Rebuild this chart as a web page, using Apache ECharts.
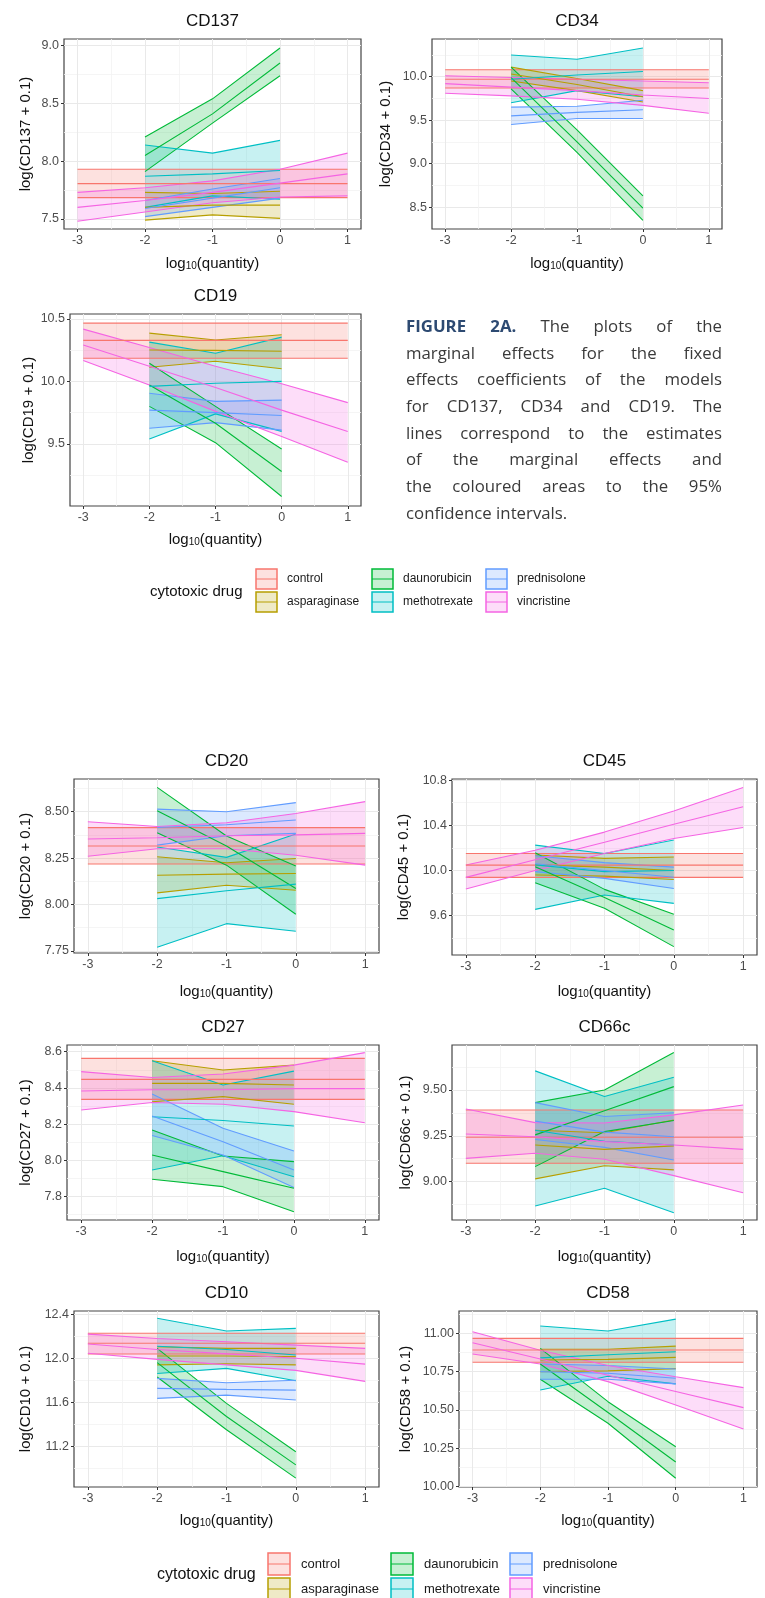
<!DOCTYPE html>
<html><head><meta charset="utf-8">
<script src="https://cdn.jsdelivr.net/npm/echarts@6/dist/echarts.min.js"></script>
<style>
html,body{margin:0;padding:0;background:#fff;}
#wrap{position:relative;width:765px;height:1598px;overflow:hidden;}
#chart{position:absolute;left:0;top:0;width:765px;height:1598px;}
#caption{position:absolute;left:406px;top:313px;width:316px;font-family:'Open Sans',sans-serif;font-size:16.8px;line-height:26.67px;color:#3a3a3a;}
#caption .ln{display:flex;justify-content:space-between;white-space:nowrap;}
#caption .last{justify-content:flex-start;}
#caption .fig{color:#2d4a72;font-weight:bold;}
</style></head>
<body>
<div id="wrap">
<div id="chart"></div>
<div id="caption">
<div class="ln"><span class="fig">FIGURE</span><span class="fig">2A.</span><span>The</span><span>plots</span><span>of</span><span>the</span></div>
<div class="ln"><span>marginal</span><span>effects</span><span>for</span><span>the</span><span>fixed</span></div>
<div class="ln"><span>effects</span><span>coefficients</span><span>of</span><span>the</span><span>models</span></div>
<div class="ln"><span>for</span><span>CD137,</span><span>CD34</span><span>and</span><span>CD19.</span><span>The</span></div>
<div class="ln"><span>lines</span><span>correspond</span><span>to</span><span>the</span><span>estimates</span></div>
<div class="ln"><span>of</span><span>the</span><span>marginal</span><span>effects</span><span>and</span></div>
<div class="ln"><span>the</span><span>coloured</span><span>areas</span><span>to</span><span>the</span><span>95%</span></div>
<div class="ln last"><span>confidence intervals.</span></div>
</div>
</div>
<script>
// ---------------- data ----------------
const drugs = ['control','asparaginase','daunorubicin','methotrexate','prednisolone','vincristine'];
const xWide = [-3,-2,-1,0,1];
const xNarrow = [-2,-1,0];
const xTickValues = [-3,-2,-1,0,1];
const xTickLabels = ['-3','-2','-1','0','1'];
const markers = ['CD137','CD34','CD19','CD20','CD45','CD27','CD66c','CD10','CD58'];

// order of each array: control, asparaginase, daunorubicin, methotrexate, prednisolone, vincristine
const CD137_lo  = [[7.685,7.685,7.685,7.685,7.685],[7.49,7.535,7.505],[7.91,8.33,8.74],[7.60,7.70,7.67],[7.52,7.60,7.68],[7.48,7.56,7.64,7.69,7.70]];
const CD137_est = [[7.806,7.806,7.806,7.806,7.806],[7.60,7.62,7.62],[8.05,8.41,8.85],[7.87,7.89,7.92],[7.59,7.68,7.77],[7.60,7.66,7.73,7.81,7.89]];
const CD137_hi  = [[7.93,7.93,7.93,7.93,7.93],[7.73,7.72,7.74],[8.21,8.54,8.98],[8.14,8.07,8.18],[7.66,7.76,7.85],[7.73,7.77,7.83,7.93,8.07]];

const CD34_lo  = [[9.87,9.87,9.87,9.87,9.87],[9.95,9.84,9.71],[9.86,9.13,8.35],[9.70,9.84,9.77],[9.45,9.52,9.52],[9.81,9.78,9.74,9.67,9.58]];
const CD34_est = [[9.97,9.97,9.97,9.97,9.97],[10.03,9.91,9.77],[9.99,9.25,8.49],[9.97,10.02,10.06],[9.55,9.59,9.62],[9.92,9.88,9.84,9.79,9.75]];
const CD34_hi  = [[10.08,10.08,10.08,10.08,10.08],[10.11,9.98,9.84],[10.11,9.39,8.63],[10.25,10.20,10.33],[9.65,9.66,9.73],[10.01,9.99,9.97,9.95,9.93]];

const CD19_lo  = [[10.185,10.185,10.185,10.185,10.185],[10.113,10.16,10.10],[9.80,9.51,9.08],[9.54,9.74,9.60],[9.625,9.67,9.61],[10.167,9.97,9.76,9.56,9.353]];
const CD19_est = [[10.327,10.327,10.327,10.327,10.327],[10.25,10.247,10.24],[9.97,9.665,9.28],[9.96,9.985,10.0],[9.77,9.75,9.727],[10.29,10.12,9.95,9.77,9.60]];
const CD19_hi  = [[10.465,10.465,10.465,10.465,10.465],[10.385,10.33,10.372],[10.145,9.80,9.46],[10.313,10.225,10.353],[9.905,9.84,9.85],[10.417,10.27,10.12,9.98,9.83]];

const CD20_lo  = [[8.218,8.218,8.218,8.218,8.218],[8.063,8.104,8.077],[8.387,8.212,7.948],[7.77,7.897,7.856],[8.32,8.37,8.383],[8.26,8.30,8.30,8.265,8.212]];
const CD20_est = [[8.315,8.315,8.315,8.315,8.315],[8.158,8.164,8.167],[8.505,8.315,8.086],[8.032,8.074,8.11],[8.415,8.43,8.455],[8.353,8.36,8.37,8.375,8.383]];
const CD20_hi  = [[8.414,8.414,8.414,8.414,8.414],[8.257,8.225,8.248],[8.631,8.369,8.207],[8.31,8.254,8.38],[8.514,8.50,8.549],[8.446,8.42,8.44,8.49,8.554]];

const CD45_lo  = [[9.939,9.939,9.939,9.939,9.939],[9.96,9.95,9.92],[9.892,9.665,9.326],[9.656,9.783,9.709],[9.99,9.93,9.84],[9.836,10.0,10.15,10.284,10.381]];
const CD45_est = [[10.048,10.048,10.048,10.048,10.048],[10.05,10.03,10.0],[10.033,9.762,9.473],[10.05,9.99,10.0],[10.06,10.0,9.94],[9.939,10.095,10.25,10.41,10.564]];
const CD45_hi  = [[10.151,10.151,10.151,10.151,10.151],[10.137,10.107,10.12],[10.157,9.833,9.612],[10.225,10.151,10.27],[10.13,10.07,10.03],[10.048,10.18,10.34,10.526,10.735]];

const CD27_lo  = [[8.337,8.337,8.337,8.337,8.337],[8.324,8.352,8.31],[7.896,7.855,7.717],[7.947,8.026,7.91],[8.137,8.03,7.85],[8.278,8.32,8.31,8.269,8.208]];
const CD27_est = [[8.447,8.447,8.447,8.447,8.447],[8.425,8.425,8.416],[8.03,7.938,7.846],[8.241,8.22,8.19],[8.245,8.103,7.947],[8.383,8.39,8.39,8.396,8.396]];
const CD27_hi  = [[8.563,8.563,8.563,8.563,8.563],[8.55,8.499,8.526],[8.168,8.024,7.993],[8.55,8.416,8.493],[8.366,8.177,8.052],[8.49,8.458,8.477,8.526,8.595]];

const CD66c_lo  = [[9.10,9.10,9.10,9.10,9.10],[9.015,9.087,9.064],[9.082,9.273,9.333],[8.867,8.964,8.831],[9.23,9.187,9.118],[9.127,9.155,9.122,9.033,8.94]];
const CD66c_est = [[9.242,9.242,9.242,9.242,9.242],[9.20,9.176,9.195],[9.255,9.387,9.518],[9.28,9.22,9.20],[9.33,9.27,9.245],[9.26,9.245,9.218,9.20,9.176]];
const CD66c_hi  = [[9.391,9.391,9.391,9.391,9.391],[9.28,9.267,9.336],[9.431,9.50,9.704],[9.604,9.464,9.569],[9.431,9.355,9.376],[9.396,9.322,9.32,9.364,9.418]];

const CD10_lo  = [[12.039,12.039,12.039,12.039,12.039],[11.94,11.95,11.94],[11.83,11.35,10.91],[11.862,11.908,11.795],[11.635,11.665,11.62],[12.045,11.99,11.94,11.89,11.79]];
const CD10_est = [[12.136,12.136,12.136,12.136,12.136],[12.02,12.02,12.015],[11.96,11.47,11.03],[12.11,12.08,12.03],[11.726,11.717,11.71],[12.13,12.08,12.04,12.0,11.947]];
const CD10_hi  = [[12.227,12.227,12.227,12.227,12.227],[12.105,12.09,12.09],[12.09,11.59,11.15],[12.364,12.248,12.272],[11.817,11.777,11.80],[12.22,12.18,12.15,12.12,12.09]];

const CD58_lo  = [[10.811,10.811,10.811,10.811,10.811],[10.75,10.755,10.77],[10.70,10.413,10.054],[10.63,10.72,10.67],[10.70,10.70,10.67],[10.865,10.80,10.685,10.533,10.376]];
const CD58_est = [[10.891,10.891,10.891,10.891,10.891],[10.826,10.83,10.843],[10.80,10.483,10.16],[10.84,10.86,10.88],[10.75,10.74,10.707],[10.939,10.833,10.727,10.621,10.515]];
const CD58_hi  = [[10.967,10.967,10.967,10.967,10.967],[10.896,10.896,10.917],[10.902,10.554,10.26],[11.048,11.015,11.093],[10.80,10.79,10.767],[11.011,10.89,10.79,10.717,10.646]];

// y-axis ticks and labels per panel
const yTicks = [[7.5,8.0,8.5,9.0],[8.5,9.0,9.5,10.0],[9.5,10.0,10.5],[7.75,8.0,8.25,8.5],[9.6,10.0,10.4,10.8],[7.8,8.0,8.2,8.4,8.6],[9.0,9.25,9.5],[11.2,11.6,12.0,12.4],[10.0,10.25,10.5,10.75,11.0]];
const yMinor = [[7.75,8.25,8.75],[8.75,9.25,9.75,10.25],[9.25,9.75,10.25],[7.875,8.125,8.375,8.625],[9.4,9.8,10.2,10.6],[7.7,7.9,8.1,8.3,8.5],[8.875,9.125,9.375,9.625],[11.0,11.4,11.8,12.2],[10.125,10.375,10.625,10.875,11.125]];
const yDecimals = [1,1,1,2,1,1,2,1,2];
const yRanges = [[7.413,9.058],[8.25,10.433],[9.004,10.538],[7.739,8.676],[9.252,10.81],[7.671,8.637],[8.791,9.745],[10.829,12.43],[9.997,11.146]];
const xMinor = [-2.5,-1.5,-0.5,0.5];

// ---------------- layout / style ----------------
const FONT = '"Liberation Sans", Arial, Helvetica, sans-serif';
const colors = ['#F8766D','#B79F00','#00BA38','#00BFC4','#619CFF','#F564E3'];
const drugX = [xWide, xNarrow, xNarrow, xNarrow, xNarrow, xWide];
const layout = [
  {l:64, t:39,  w:297, h:190, yng:31, xng:24},
  {l:432,t:39,  w:290, h:190, yng:39, xng:24},
  {l:70, t:314, w:291, h:192, yng:32, xng:23},
  {l:74, t:779, w:305, h:174, yng:41, xng:28},
  {l:452,t:779, w:305, h:176, yng:41, xng:26},
  {l:67, t:1045,w:312, h:175, yng:34, xng:26},
  {l:452,t:1045,w:305, h:175, yng:39, xng:26},
  {l:74, t:1311,w:305, h:176, yng:41, xng:23},
  {l:459,t:1311,w:298, h:176, yng:46, xng:23}
];
const panelData = [
  [CD137_lo,CD137_est,CD137_hi],[CD34_lo,CD34_est,CD34_hi],[CD19_lo,CD19_est,CD19_hi],
  [CD20_lo,CD20_est,CD20_hi],[CD45_lo,CD45_est,CD45_hi],[CD27_lo,CD27_est,CD27_hi],
  [CD66c_lo,CD66c_est,CD66c_hi],[CD10_lo,CD10_est,CD10_hi],[CD58_lo,CD58_est,CD58_hi]
];

function rgba(hex, a){
  const n = parseInt(hex.slice(1),16);
  return 'rgba(' + ((n>>16)&255) + ',' + ((n>>8)&255) + ',' + (n&255) + ',' + a + ')';
}

const grids = [], xAxes = [], yAxes = [], series = [], graphics = [];

markers.forEach((name, pi) => {
  const L = layout[pi];
  grids.push({left:L.l, top:L.t, width:L.w, height:L.h, show:true, borderColor:'#444', borderWidth:1.2, backgroundColor:'#fff', outerBoundsMode:'none', containLabel:false});
  const dec = yDecimals[pi];
  // main x axis
  xAxes.push({
    type:'value', gridIndex:pi, min:-3.2, max:1.2, position:'bottom',
    axisLine:{show:false, onZero:false},
    axisTick:{show:true, customValues:xTickValues, length:3, lineStyle:{color:'#333', width:1}},
    axisLabel:{customValues:xTickValues, formatter:(v)=>xTickLabels[xTickValues.indexOf(v)] ?? String(v), color:'#4d4d4d', fontSize:12.5, fontFamily:FONT, margin:5},
    splitLine:{show:true, lineStyle:{color:'#e9e9e9', width:1}},
    name:'{n|log}{s|10}{n|(quantity)}', nameLocation:'middle', nameGap:L.xng,
    nameTextStyle:{rich:{
      n:{fontSize:15, fontFamily:FONT, color:'#111', lineHeight:18, verticalAlign:'bottom'},
      s:{fontSize:10, fontFamily:FONT, color:'#111', lineHeight:10, verticalAlign:'bottom'}
    }}
  });
  // minor x axis (grid lines only)
  xAxes.push({
    type:'value', gridIndex:pi, min:-3.2, max:1.2, position:'bottom',
    axisLine:{show:false, onZero:false}, axisTick:{show:false, customValues:xMinor},
    axisLabel:{show:false, customValues:xMinor},
    splitLine:{show:true, lineStyle:{color:'#f3f3f3', width:0.8}}
  });
  yAxes.push({
    type:'value', gridIndex:pi, min:yRanges[pi][0], max:yRanges[pi][1], position:'left',
    axisLine:{show:false, onZero:false},
    axisTick:{show:true, customValues:yTicks[pi], length:3, lineStyle:{color:'#333', width:1}},
    axisLabel:{customValues:yTicks[pi], formatter:(v)=>Number(v).toFixed(dec), color:'#4d4d4d', fontSize:12.5, fontFamily:FONT, margin:5},
    splitLine:{show:true, lineStyle:{color:'#e9e9e9', width:1}},
    name:'log(' + name + ' + 0.1)', nameLocation:'middle', nameGap:L.yng,
    nameTextStyle:{fontSize:15, fontFamily:FONT, color:'#111'}
  });
  yAxes.push({
    type:'value', gridIndex:pi, min:yRanges[pi][0], max:yRanges[pi][1], position:'left',
    axisLine:{show:false, onZero:false}, axisTick:{show:false, customValues:yMinor[pi]},
    axisLabel:{show:false, customValues:yMinor[pi]},
    splitLine:{show:true, lineStyle:{color:'#f3f3f3', width:0.8}}
  });
  const xi = pi*2, yi = pi*2;
  const [LO, EST, HI] = panelData[pi];
  const lineS = (xs, vals, color) => ({
    type:'line', xAxisIndex:xi, yAxisIndex:yi, silent:true, animation:false,
    symbol:'none', data: xs.map((x,k)=>[x, vals[k]]),
    lineStyle:{color:color, width:1.1}, itemStyle:{color:color}
  });
  drugs.forEach((d, di) => {
    const xs = drugX[di], lo = LO[di], hi = HI[di];
    series.push({
      type:'custom', name:d, xAxisIndex:xi, yAxisIndex:yi, silent:true, animation:false,
      data: xs.map((x,k)=>[x, lo[k], hi[k]]), encode:{x:0, y:[1,2]},
      renderItem:(params, api) => {
        if (params.dataIndex !== 0) return null;
        const top = xs.map((x,k)=>api.coord([x, hi[k]]));
        const bot = xs.map((x,k)=>api.coord([x, lo[k]])).reverse();
        return {type:'polygon', shape:{points: top.concat(bot)}, style:{fill: rgba(colors[di], 0.22)}};
      }
    });
    series.push(lineS(xs, lo, colors[di]));
    series.push(lineS(xs, hi, colors[di]));
  });
  drugs.forEach((d, di) => {
    series.push(lineS(drugX[di], EST[di], colors[di]));
  });
  graphics.push({type:'text', x: L.l + L.w/2, y: L.t - 18, silent:true,
    style:{text:name, align:'center', verticalAlign:'middle', fontSize:17, fontFamily:FONT, fill:'#111'}});
});

// legends
function addLegend(c){
  graphics.push({type:'text', x:c.titleX, y:c.titleY, silent:true,
    style:{text:'cytotoxic drug', align:'left', verticalAlign:'middle', fontSize:c.titleSize, fontFamily:FONT, fill:'#111'}});
  drugs.forEach((d, di) => {
    const col = Math.floor(di/2), row = di%2;
    const kx = c.keyXs[col], ky = c.keyTop + row*c.rowStep;
    graphics.push({type:'rect', silent:true, shape:{x:kx+1, y:ky+1, width:c.keyW-2, height:c.keyH-2},
      style:{fill: rgba(colors[di],0.22), stroke: colors[di], lineWidth:1.5}});
    graphics.push({type:'line', silent:true, shape:{x1:kx+1, y1:ky+c.keyH/2, x2:kx+c.keyW-1, y2:ky+c.keyH/2},
      style:{stroke: colors[di], lineWidth:1}});
    graphics.push({type:'text', x:kx + c.labelDx, y:ky + c.keyH/2, silent:true,
      style:{text:d, align:'left', verticalAlign:'middle', fontSize:c.labelSize, fontFamily:FONT, fill:'#1a1a1a'}});
  });
}
addLegend({titleX:150, titleY:592, titleSize:15, keyXs:[255,371,485], keyTop:568, keyW:23, keyH:22, rowStep:23, labelDx:32, labelSize:12});
addLegend({titleX:157, titleY:1575, titleSize:16, keyXs:[267,390,509], keyTop:1552, keyW:24, keyH:24, rowStep:25, labelDx:34, labelSize:13});

const chart = echarts.init(document.getElementById('chart'));
chart.setOption({
  animation:false,
  backgroundColor:'#fff',
  grid: grids, xAxis: xAxes, yAxis: yAxes, series: series,
  graphic: graphics
});
</script>
</body></html>
